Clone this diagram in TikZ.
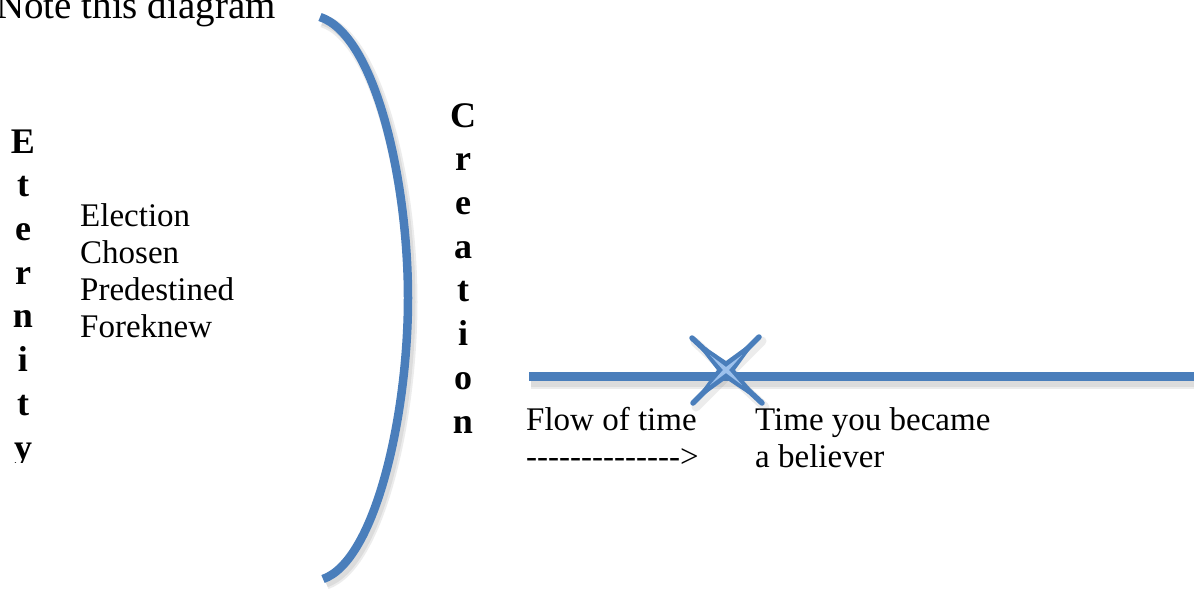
\documentclass[tikz,border=0pt]{standalone}
\usepackage{fontspec}
\setmainfont{Liberation Serif}
\usepackage{tikz}
\usetikzlibrary{positioning, calc}
\definecolor{timeBlue}{HTML}{4A7EBB}
\definecolor{timeLight}{HTML}{9CC0EC}
\definecolor{shadowGrey}{HTML}{6F6F6F}

\begin{document}
\begin{tikzpicture}[
  x=1pt, y=-1pt,
  % Styles
  bodytext/.style={
    font=\fontsize{33}{37}\selectfont,
    inner sep=0pt, align=left, anchor=base west
  },
  spelled/.style={
    font=\fontsize{36}{43.7}\selectfont\bfseries,
    inner sep=0pt, align=center, anchor=base
  },
  bracketline/.style={
    draw=timeBlue, line width=8.5pt
  },
  softshadow/.style={
    draw=shadowGrey, line width=#1, opacity=0.13
  },
]
\useasboundingbox (0,0) rectangle (1194,590);

% === Heading (cut by the page edge) ===
\node[font=\fontsize{39}{44}\selectfont, inner sep=0pt, anchor=base west]
  (heading) at (-4,18) {Note this diagram};

% === Eternity / Creation spelled downwards (base = last line) ===
\begin{scope}
  \clip (0,0) rectangle (60,462);
  \node[spelled] (eternity) at (23,459) {E\\t\\e\\r\\n\\i\\t\\y};
\end{scope}
\node[spelled] (creation) at (463,433) {C\\r\\e\\a\\t\\i\\o\\n};

% === Before creation ===
\node[bodytext] (decrees) at (80,337) {Election\\Chosen\\Predestined\\Foreknew};

% === The bracket ===
\begin{scope}[shift={(3,4)}]
  \draw[softshadow=13pt] (320,17) .. controls (375,35) and (408,180) .. (408,298)
    .. controls (408,416) and (375,561) .. (323,579);
  \draw[softshadow=9pt] (320,17) .. controls (375,35) and (408,180) .. (408,298)
    .. controls (408,416) and (375,561) .. (323,579);
\end{scope}
\draw[bracketline] (320,17) .. controls (375,35) and (408,180) .. (408,298)
  .. controls (408,416) and (375,561) .. (323,579);

% === Time line ===
\begin{scope}[shift={(0,6)}]
  \draw[softshadow=14pt] (531,376) -- (1200,376);
  \draw[softshadow=9pt] (531,376) -- (1200,376);
\end{scope}
\draw[bracketline, line width=9pt] (529,376) -- (1200,376);

% === The moment you believed ===
\coordinate (moment) at (726,370);
\begin{scope}[shift={(3,4)}]
  \draw[softshadow=9pt, line cap=round] (692,338) -- (762,403);
  \draw[softshadow=9pt, line cap=round] (759,337) -- (693,403);
\end{scope}
\draw[timeBlue, line width=5.5pt, line cap=round] (692,338) -- (762,403);
\draw[timeBlue, line width=5.5pt, line cap=round] (759,337) -- (693,403);
\fill[timeBlue] (692,338) -- ($(moment)+(0,-9)$) -- (759,337) -- ($(moment)+(9,0)$)
  -- (762,403) -- ($(moment)+(0,9)$) -- (693,403) -- ($(moment)+(-9,0)$) -- cycle;
\fill[timeLight] ($(moment)+(-16,-15)$) -- ($(moment)+(0,-3)$) -- ($(moment)+(16,-15)$)
  -- ($(moment)+(3,0)$) -- ($(moment)+(16,15)$) -- ($(moment)+(0,3)$)
  -- ($(moment)+(-16,15)$) -- ($(moment)+(-3,0)$) -- cycle;

% === Labels under the line ===
\node[bodytext] (flow) at (526,467)
  {Flow of time\\-{}-{}-{}-{}-{}-{}-{}-{}-{}-{}-{}-{}-{}->};
\node[bodytext] (believer) at (755,467) {Time you became\\a believer};

\end{tikzpicture}
\end{document}
